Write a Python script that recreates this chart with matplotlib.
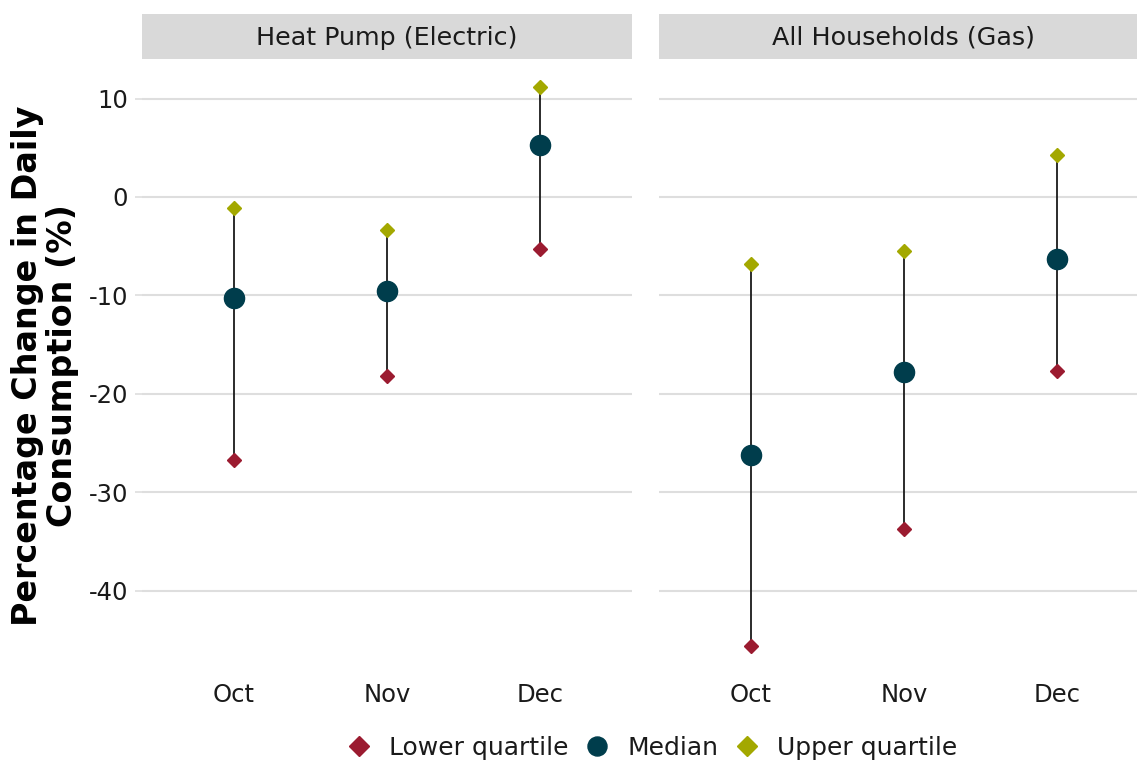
import matplotlib
matplotlib.use("Agg")
import matplotlib.pyplot as plt
from matplotlib.lines import Line2D

months = ["Oct", "Nov", "Dec"]
panels = ["Heat Pump (Electric)", "All Households (Gas)"]
lower = {"Heat Pump (Electric)": [-26.7, -18.2, -5.3],
         "All Households (Gas)": [-45.6, -33.7, -17.7]}
median = {"Heat Pump (Electric)": [-10.3, -9.6, 5.3],
          "All Households (Gas)": [-26.2, -17.8, -6.3]}
upper = {"Heat Pump (Electric)": [-1.1, -3.4, 11.2],
         "All Households (Gas)": [-6.8, -5.5, 4.3]}
yticks = [10, 0, -10, -20, -30, -40]

C_LOW = "#9b1b30"
C_MED = "#003d4c"
C_UP = "#a3a800"
GRID = "#dedede"
TXT = "#1a1a1a"

W, H = 1137, 763
fig = plt.figure(figsize=(W / 100, H / 100), dpi=100)

def fx(px):
    return px / W

def fy(py):
    return 1 - py / H

panel_x = [(142, 632), (659, 1149)]
top, bot = 59, 673
strip_top = 14

for i, name in enumerate(panels):
    x0, x1 = panel_x[i]
    ax = fig.add_axes([fx(x0), fy(bot), fx(x1 - x0), (bot - top) / H])
    xs = list(range(1, len(months) + 1))
    for x, lo, hi in zip(xs, lower[name], upper[name]):
        ax.plot([x, x], [lo, hi], color="#1a1a1a", lw=1.3, zorder=2)
    ax.plot(xs, lower[name], ls="none", marker="D", ms=7.5, color=C_LOW, zorder=3)
    ax.plot(xs, upper[name], ls="none", marker="D", ms=7.5, color=C_UP, zorder=3)
    ax.plot(xs, median[name], ls="none", marker="o", ms=14.5, color=C_MED, zorder=4)
    ax.set_xlim(0.4, 3.6)
    ax.set_ylim(-48.37, 14.02)
    ax.set_yticks(yticks)
    ax.set_xticks(xs)
    ax.set_xticklabels(months)
    for s in ax.spines.values():
        s.set_visible(False)
    ax.grid(axis="y", color=GRID, lw=1.5)
    ax.grid(axis="x", visible=False)
    ax.set_axisbelow(True)
    ax.tick_params(axis="x", length=0, pad=7.5, labelsize=17.5, labelcolor=TXT)
    if i == 0:
        ax.tick_params(axis="y", length=5, width=1.2, color=GRID, pad=5,
                       labelsize=17.5, labelcolor=TXT)
        ax.set_yticklabels([str(v) for v in yticks])
    else:
        ax.tick_params(axis="y", length=0, labelleft=False)
    # strip
    sax = fig.add_axes([fx(x0), fy(top), fx(x1 - x0), (top - strip_top) / H])
    sax.set_facecolor("#d9d9d9")
    sax.set_xticks([])
    sax.set_yticks([])
    for s in sax.spines.values():
        s.set_visible(False)
    sax.text(0.5, 0.47, name, ha="center", va="center", fontsize=18.3,
             color=TXT, transform=sax.transAxes)

fig.text(fx(45), fy(366), "Percentage Change in Daily\nConsumption (%)",
         rotation=90, ha="center", va="center", fontsize=24, fontweight="bold",
         linespacing=1.05, color="black", multialignment="center")

handles = [
    Line2D([], [], ls="none", marker="D", ms=10, color=C_LOW),
    Line2D([], [], ls="none", marker="o", ms=13.7, color=C_MED),
    Line2D([], [], ls="none", marker="D", ms=10, color=C_UP),
]
fig.legend(handles, ["Lower quartile", "Median", "Upper quartile"],
           loc="center", bbox_to_anchor=(fx(653), fy(748)), ncol=3,
           frameon=False, fontsize=18, handlelength=0.8, handletextpad=0.8,
           columnspacing=0.76, labelcolor=TXT)

fig.savefig("out.png", dpi=100, facecolor="white")
